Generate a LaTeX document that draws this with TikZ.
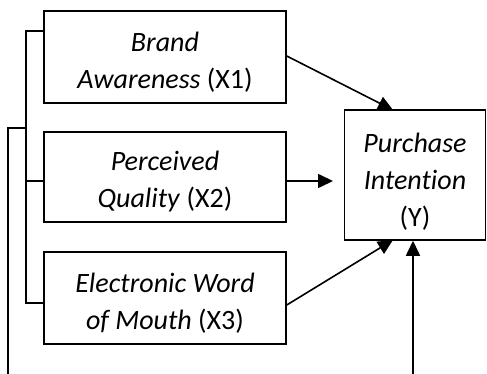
\documentclass[tikz,border=0pt]{standalone}
\usepackage{fontspec}
\setmainfont{Carlito}[Ligatures=NoCommon]
\usetikzlibrary{arrows.meta}
\begin{document}
\begin{tikzpicture}[x=1pt,y=-1pt,
  box/.style={draw,line width=1.5pt,minimum width=242pt,inner sep=0pt},
  txt/.style={align=center,inner sep=0pt,yshift=-5pt,font=\fontsize{28}{37}\selectfont},
  conn/.style={line width=1.6pt},
  arr/.style={line width=1.6pt,-{Triangle[length=15pt,width=14pt]}}]
\useasboundingbox (0,0) rectangle (487,374);
\node[box,minimum height=92pt,label={[txt]center:{\textit{Brand}\\\textit{Awareness} (X1)}}] (b1) at (165,57) {};
\node[box,minimum height=90pt,label={[txt]center:{\textit{Perceived}\\\textit{Quality} (X2)}}] (b2) at (165,177) {};
\node[box,minimum height=92pt,label={[txt]center:{\textit{Electronic Word}\\\textit{of Mouth} (X3)}}] (b3) at (165,298) {};
\node[box,minimum width=141pt,minimum height=130pt,label={[txt,yshift=-2pt]center:{\textit{Purchase}\\\textit{Intention}\\(Y)}}] (y) at (415,175) {};
% bracket
\coordinate (t1) at (26,31);
\coordinate (t2) at (26,181);
\coordinate (t3) at (26,303);
\coordinate (o1) at (26,128);
\coordinate (o2) at (8,128);
\coordinate (o3) at (8,374);
\draw[conn] (b1.west |- t1) -- (t1) -- (t3) -- (b3.west |- t3);
\draw[conn] (t2) -- (b2.west |- t2);
\draw[conn] (o1) -- (o2) -- (o3);
% arrows
\coordinate (a1) at (393,110);
\coordinate (a3) at (393,240);
\coordinate (a2) at (333,181);
\coordinate (r0) at (413,374);
\draw[arr] (b1.east |- 0,56) -- (a1);
\draw[arr] (b2.east |- a2) -- (a2);
\draw[arr] (b3.east |- 0,305) -- (a3);
\draw[arr] (r0) -- (y.south -| r0);
\end{tikzpicture}
\end{document}
